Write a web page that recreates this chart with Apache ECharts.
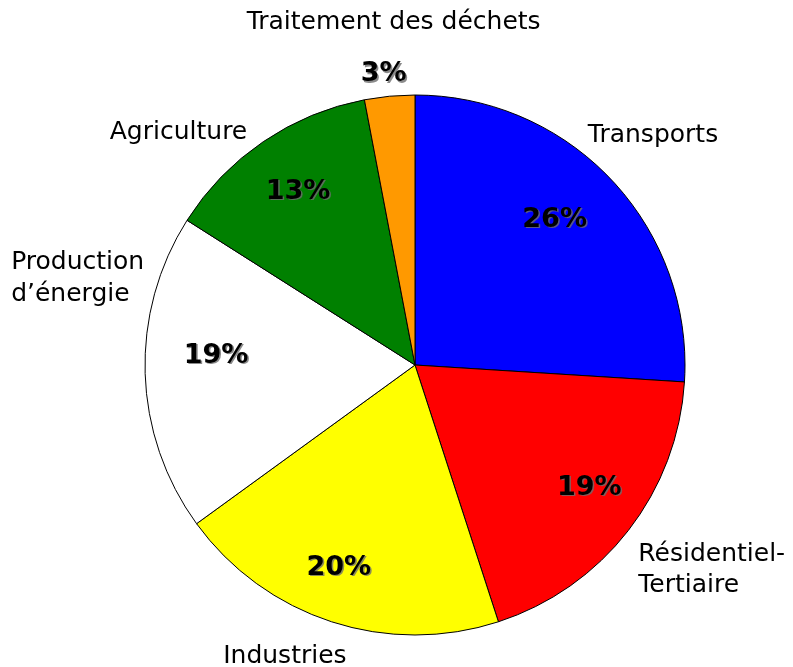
<!DOCTYPE html>
<html>
<head>
<meta charset="utf-8">
<script src="https://cdn.jsdelivr.net/npm/echarts@6/dist/echarts.min.js"></script>
<style>
  html, body { margin: 0; padding: 0; background: #fff; }
  #chart { width: 793px; height: 667px; }
</style>
</head>
<body>
<div id="chart"></div>
<script>
// secteurs, dans le sens horaire depuis midi
var categories = ['Transports', 'Résidentiel-\nTertiaire', 'Industries', 'Production\nd\u2019énergie', 'Agriculture', 'Traitement des déchets'];
var values = [26, 19, 20, 19, 13, 3];
var colors = ['#0000FF', '#FF0000', '#FFFF00', '#FFFFFF', '#008000', '#FF9900'];

var fontName = 'Verdana, "DejaVu Sans", sans-serif';
var pctStyle = {
  fontFamily: fontName,
  fontSize: 27,
  fontWeight: 'bold',
  color: '#000',
  textShadowColor: 'rgba(110,110,110,0.8)',
  textShadowOffsetX: 1.5,
  textShadowOffsetY: 1.5,
  textShadowBlur: 0.5
};

// decalage des etiquettes (par rapport a la position calculee par echarts)
var nameOffsets = [[-24, -45], [10, 40], [15, 35], [-1, -95], [-16, -9], [151, -48]];
var pctOffsets = [[-12, -3], [10, -5], [-12, 5], [9, -16], [0, -1], [0, 0]];

var outerData = categories.map(function (c, i) {
  var item = {
    name: c,
    value: values[i],
    itemStyle: { color: colors[i] },
    label: { offset: nameOffsets[i] }
  };
  if (i === 3) {
    item.label.formatter = c.split('\n').map(function (s) { return '{l|' + s + '}'; }).join('\n');
  }
  if (i === 5) {
    item.label.formatter = '{n|' + c + '}\n{p|' + values[i] + '%}';
  }
  return item;
});

var innerData = categories.map(function (c, i) {
  return {
    name: c,
    value: values[i],
    label: { show: i !== 5, offset: pctOffsets[i] }
  };
});

var option = {
  animation: false,
  backgroundColor: '#fff',
  series: [
    {
      type: 'pie',
      center: [415, 365],
      radius: 270,
      startAngle: 90,
      clockwise: true,
      avoidLabelOverlap: false,
      silent: true,
      itemStyle: { borderColor: '#000', borderWidth: 1 },
      label: {
        show: true,
        position: 'outside',
        distanceToLabelLine: 0,
        fontFamily: fontName,
        fontSize: 25,
        lineHeight: 31,
        color: '#000',
        rich: {
          l: { fontFamily: fontName, fontSize: 25, lineHeight: 32, align: 'left', color: '#000' },
          n: { fontFamily: fontName, fontSize: 25, lineHeight: 52, align: 'center', color: '#000' },
          p: Object.assign({ lineHeight: 52, align: 'center', padding: [0, 20, 0, 0] }, pctStyle)
        }
      },
      labelLine: { show: false, length: 0, length2: 0 },
      emphasis: { disabled: true },
      data: outerData
    },
    {
      type: 'pie',
      center: [415, 365],
      radius: [140, 270],
      startAngle: 90,
      clockwise: true,
      silent: true,
      avoidLabelOverlap: false,
      itemStyle: { color: 'rgba(0,0,0,0)', borderWidth: 0 },
      label: Object.assign({ show: true, position: 'inside', formatter: '{c}%' }, pctStyle),
      labelLine: { show: false },
      emphasis: { disabled: true },
      data: innerData
    }
  ]
};

var myChart = echarts.init(document.getElementById('chart'));
myChart.setOption(option);
</script>
</body>
</html>
